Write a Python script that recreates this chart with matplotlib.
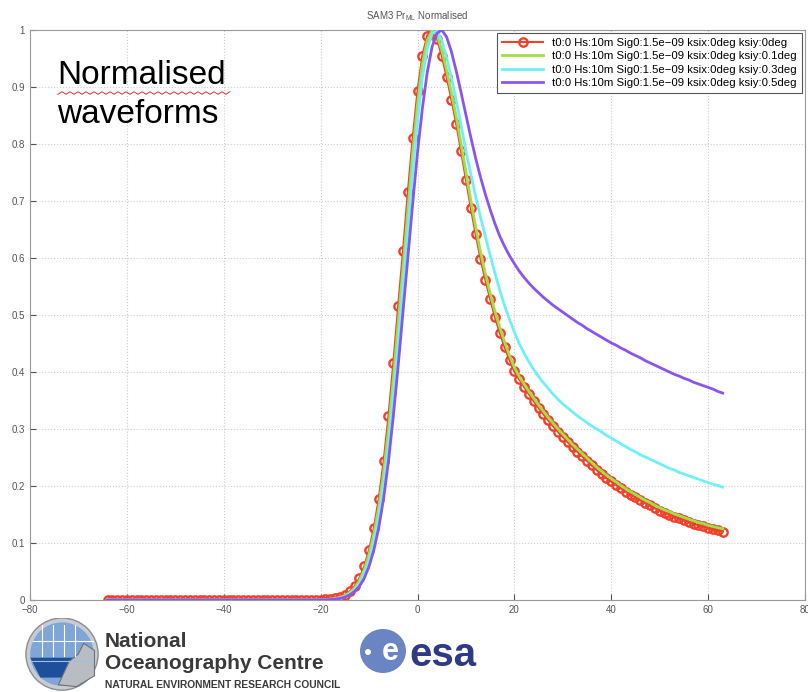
import numpy as np
import matplotlib.pyplot as plt
from matplotlib.patches import Circle, Ellipse, Polygon

plt.rcParams['font.family'] = ['Liberation Sans', 'DejaVu Sans']

# range gates
gates = list(range(-64, 64))

# ksiy = 0 deg (red, markers)
red = [0.0] * 44 + [
    0.0005, 0.001, 0.002, 0.003, 0.005, 0.009, 0.015, 0.024, 0.038, 0.059,
    0.088, 0.127, 0.178, 0.243, 0.322, 0.415, 0.515, 0.612, 0.715, 0.810,
    0.893, 0.955, 0.990, 1.000, 0.985, 0.955, 0.918, 0.878, 0.835, 0.787,
    0.737, 0.688, 0.642, 0.599, 0.562, 0.528, 0.496, 0.468, 0.443, 0.421,
    0.401, 0.387, 0.374, 0.361, 0.349, 0.337, 0.326, 0.315, 0.305, 0.295,
    0.286, 0.277, 0.268, 0.260, 0.252, 0.244, 0.236, 0.228, 0.221, 0.214,
    0.208, 0.202, 0.196, 0.190, 0.185, 0.180, 0.175, 0.170, 0.166, 0.161,
    0.157, 0.153, 0.150, 0.146, 0.143, 0.140, 0.137, 0.134, 0.131, 0.129,
    0.126, 0.124, 0.122, 0.120]

# ksiy = 0.1 deg (green)
green = [0.0] * 44 + [
    0.0004, 0.0008, 0.0015, 0.0025, 0.0045, 0.008, 0.013, 0.021, 0.034, 0.053,
    0.080, 0.116, 0.163, 0.224, 0.298, 0.387, 0.485, 0.583, 0.684, 0.783,
    0.870, 0.940, 0.982, 0.999, 0.992, 0.965, 0.930, 0.890, 0.848, 0.800,
    0.750, 0.701, 0.655, 0.611, 0.573, 0.538, 0.506, 0.478, 0.452, 0.429,
    0.408, 0.392, 0.379, 0.366, 0.354, 0.342, 0.331, 0.320, 0.310, 0.300,
    0.291, 0.282, 0.273, 0.265, 0.257, 0.249, 0.241, 0.233, 0.226, 0.219,
    0.213, 0.207, 0.201, 0.195, 0.190, 0.185, 0.180, 0.175, 0.171, 0.166,
    0.162, 0.158, 0.155, 0.151, 0.148, 0.145, 0.142, 0.139, 0.136, 0.134,
    0.131, 0.129, 0.127, 0.125]

# ksiy = 0.3 deg (cyan)
cyan = [0.0] * 44 + [
    0.0003, 0.0006, 0.001, 0.002, 0.0035, 0.006, 0.011, 0.018, 0.029, 0.046,
    0.070, 0.103, 0.146, 0.203, 0.272, 0.356, 0.450, 0.549, 0.650, 0.750,
    0.840, 0.916, 0.967, 0.994, 0.998, 0.982, 0.952, 0.916, 0.876, 0.833,
    0.787, 0.748, 0.708, 0.672, 0.638, 0.605, 0.573, 0.543, 0.516, 0.492,
    0.470, 0.450, 0.433, 0.418, 0.404, 0.392, 0.381, 0.371, 0.361, 0.352,
    0.344, 0.337, 0.330, 0.323, 0.317, 0.311, 0.305, 0.300, 0.295, 0.289,
    0.284, 0.279, 0.274, 0.269, 0.264, 0.260, 0.255, 0.251, 0.247, 0.243,
    0.239, 0.235, 0.231, 0.228, 0.224, 0.221, 0.218, 0.215, 0.212, 0.209,
    0.206, 0.203, 0.201, 0.198]

# ksiy = 0.5 deg (purple)
purple = [0.0] * 44 + [
    0.0002, 0.0004, 0.0008, 0.0015, 0.0028, 0.005, 0.009, 0.015, 0.024, 0.038,
    0.059, 0.088, 0.127, 0.178, 0.243, 0.322, 0.410, 0.505, 0.600, 0.695,
    0.785, 0.862, 0.925, 0.970, 0.994, 1.000, 0.988, 0.962, 0.928, 0.890,
    0.851, 0.812, 0.775, 0.742, 0.712, 0.685, 0.660, 0.638, 0.620, 0.604,
    0.590, 0.577, 0.566, 0.556, 0.547, 0.539, 0.531, 0.524, 0.517, 0.511,
    0.505, 0.499, 0.493, 0.487, 0.482, 0.476, 0.471, 0.466, 0.461, 0.456,
    0.451, 0.447, 0.442, 0.438, 0.433, 0.429, 0.425, 0.420, 0.416, 0.412,
    0.408, 0.404, 0.400, 0.396, 0.393, 0.389, 0.386, 0.382, 0.379, 0.376,
    0.373, 0.370, 0.366, 0.363]

labels = [
    "t0:0 Hs:10m Sig0:1.5e\u221209 ksix:0deg ksiy:0deg",
    "t0:0 Hs:10m Sig0:1.5e\u221209 ksix:0deg ksiy:0.1deg",
    "t0:0 Hs:10m Sig0:1.5e\u221209 ksix:0deg ksiy:0.3deg",
    "t0:0 Hs:10m Sig0:1.5e\u221209 ksix:0deg ksiy:0.5deg",
]

fig = plt.figure(figsize=(8.08, 6.92), dpi=100)
ax = fig.add_axes([30 / 808, 92 / 692, 775 / 808, 570 / 692])

ax.plot(gates, red, color="#f2402a", lw=1.5, marker="o", ms=6,
        mfc="none", mew=1.7, label=labels[0], zorder=2)
ax.plot(gates, green, color="#a0df45", lw=2, label=labels[1], zorder=3)
ax.plot(gates, cyan, color="#6ef0f5", lw=2, label=labels[2], zorder=3)
ax.plot(gates, purple, color="#8a55ee", lw=2, label=labels[3], zorder=3)

ax.set_xlim(-80, 80)
ax.set_ylim(0, 1)
ax.set_xticks(range(-80, 81, 20))
ax.set_yticks(np.arange(0, 1.01, 0.1))
ax.set_yticklabels(["0", "0.1", "0.2", "0.3", "0.4", "0.5", "0.6", "0.7",
                    "0.8", "0.9", "1"])
ax.tick_params(direction="in", labelsize=7, colors="#555555", length=4)
for s in ax.spines.values():
    s.set_color("#999999")
ax.grid(True, linestyle=":", color="#cccccc", linewidth=0.8)
ax.set_title("SAM3 Pr$_{\\mathregular{ML}}$ Normalised", fontsize=7,
             color="#555555", pad=8)

leg = ax.legend(loc="upper right", fontsize=8.2, fancybox=False,
                edgecolor="#555555", framealpha=1, handlelength=3.6,
                borderaxespad=0.25, labelspacing=0.3, borderpad=0.45)
leg.get_frame().set_linewidth(0.8)

fig.text(57 / 808, 1 - 60 / 692, "Normalised\nwaveforms", fontsize=24,
         va="top", ha="left", color="black", linespacing=1.32)
# spell-check squiggle under "Normalised"
sq_x = np.linspace(58, 230, 44)
sq_y = 93 + 1.3 * np.array([(-1) ** i for i in range(44)])
fig.add_artist(plt.Line2D(sq_x / 808, 1 - sq_y / 692, color="#e03030",
                          lw=0.7, transform=fig.transFigure))

# NOC logo
gax = fig.add_axes([24 / 808, 0 / 692, 76 / 808, 74 / 692])
gax.set_xlim(-1.05, 1.05)
gax.set_ylim(-1.05, 1.0)
gax.set_aspect("equal")
gax.axis("off")
gax.add_patch(Circle((0, 0), 1.0, facecolor="#c8ccd2", edgecolor="#8a8f96", lw=1))
gax.add_patch(Circle((0, 0), 0.88, facecolor="#7fa6d6", edgecolor="none"))
gax.add_patch(Polygon([(-0.88, -0.1), (0.88, -0.1), (0.6, -0.65), (-0.6, -0.65)],
                      facecolor="#1d4f9a", edgecolor="none"))
for xx in [-0.55, -0.25, 0.05, 0.35]:
    gax.plot([xx, xx], [-0.05, 0.8], color="white", lw=0.8)
gax.plot([-0.8, 0.85], [0.35, 0.35], color="white", lw=0.8)
gax.plot([-0.85, 0.85], [-0.2, -0.2], color="#9fc0e6", lw=0.8)
gax.add_patch(Polygon([(-0.1, -0.85), (0.2, -0.2), (0.45, 0.0), (0.6, 0.3),
                       (0.9, 0.1), (0.9, -0.6), (0.4, -0.9)],
                      facecolor="#b9bcc0", edgecolor="#6d7076", lw=0.8))

fig.text(105 / 808, 1 - 647 / 692, "National", fontsize=15, weight="bold",
         color="#3a3a3a")
fig.text(105 / 808, 1 - 669 / 692, "Oceanography Centre", fontsize=15,
         weight="bold", color="#3a3a3a")
fig.text(105 / 808, 1 - 688 / 692, "NATURAL ENVIRONMENT RESEARCH COUNCIL",
         fontsize=7.4, weight="bold", color="#3a3a3a")

# ESA logo
fig.add_artist(Ellipse((383 / 808, 1 - 651 / 692), 46 / 808, 44 / 692,
                       transform=fig.transFigure, facecolor="#6a84c4",
                       edgecolor="none"))
fig.add_artist(Ellipse((368 / 808, 1 - 652 / 692), 6 / 808, 6 / 692,
                       transform=fig.transFigure, facecolor="white",
                       edgecolor="none"))
fig.text(390 / 808, 1 - 652 / 692, "e", fontsize=22, weight="bold",
         color="white", ha="center", va="center")
fig.text(409 / 808, 1 - 666 / 692, "esa", fontsize=29, weight="bold",
         color="#2f3a86", family=["Liberation Sans Narrow", "Liberation Sans"])

fig.savefig("out.png", dpi=100)
